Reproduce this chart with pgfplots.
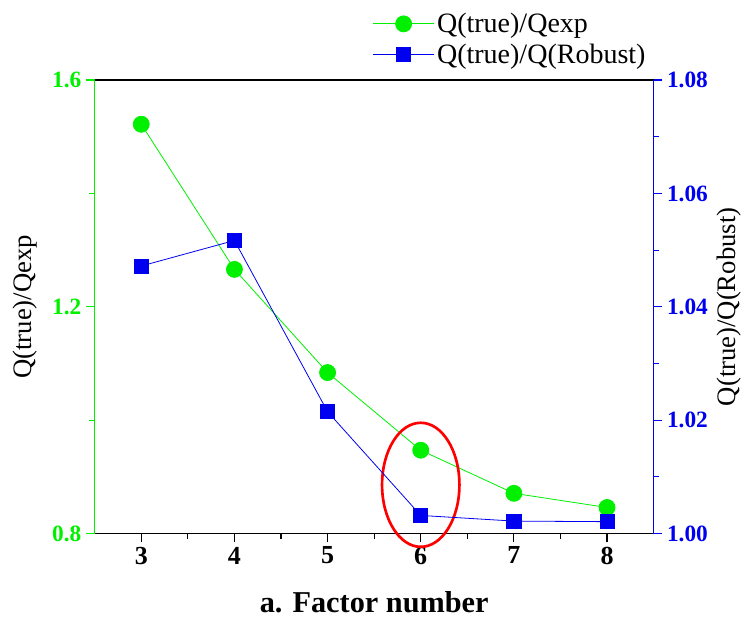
\documentclass[border=0pt]{standalone}
\usepackage{fontspec}
\setmainfont{Liberation Serif}
\usepackage{pgfplots}
\pgfplotsset{compat=1.18}
\definecolor{qgreen}{HTML}{00F000}
\definecolor{qblue}{HTML}{0000F0}

\pgfplotstableread{
n qexp
3 1.522
4 1.266
5 1.084
6 0.947
7 0.871
8 0.846
}\qexp
\pgfplotstableread{
n qrob
3 1.0472
4 1.0517
5 1.0215
6 1.0032
7 1.0022
8 1.0021
}\qrob

\begin{document}
\begin{tikzpicture}
\pgfplotsset{
  every axis/.append style={
    scale only axis, width=419pt, height=340pt,
    xmin=2.5, xmax=8.5, xtick={3,...,8}, minor x tick num=1,
    tick align=outside, major tick length=6.5pt, minor tick length=4pt,
    /pgf/number format/assume math mode=true,
    yticklabel style={font=\fontsize{17.5}{19}\selectfont\bfseries},
    xticklabel style={font=\fontsize{19.5}{21}\selectfont\bfseries},
  }
}
\begin{axis}[
  name=ax1,
  axis y line*=left, axis x line*=box, xtick pos=bottom,
  x axis line style={black, line width=0.9pt},
  y axis line style={qgreen, line width=0.9pt},
  ytick style={qgreen, line width=0.9pt},
  xtick style={black, line width=0.9pt},
  ymin=0.8, ymax=1.6, ytick={0.8,1.2,1.6}, minor y tick num=1,
  yticklabel style={qgreen, /pgf/number format/.cd, fixed, precision=1},
  ylabel={Q(true)/Qexp},
  ylabel style={font=\fontsize{20}{22}\selectfont, yshift=4pt},
  xlabel={a. Factor number},
  xlabel style={font=\fontsize{22.7}{25}\selectfont\bfseries, yshift=-13pt},
  clip=false,
]
\addplot[qgreen, line width=0.6pt, mark=*, mark size=6pt,
  mark options={solid, fill=qgreen, draw=qgreen}] table[x=n, y=qexp] {\qexp};
\draw[red, line width=2pt] (axis cs:6,0.886) ellipse [x radius=29pt, y radius=46.5pt];
\end{axis}
\begin{axis}[
  axis y line*=right, axis x line=none,
  y axis line style={qblue, line width=0.9pt},
  ytick style={qblue, line width=0.9pt},
  ymin=1.0, ymax=1.08, ytick={1.00,1.02,...,1.08}, minor y tick num=1,
  yticklabel style={qblue, /pgf/number format/.cd, fixed, fixed zerofill, precision=2},
  ylabel={Q(true)/Q(Robust)},
  ylabel style={font=\fontsize{20}{22}\selectfont, yshift=0pt},
  legend style={draw=none, fill=none, font=\fontsize{21}{23}\selectfont,
    at={(0.49,1.02)}, anchor=south west, row sep=3pt},
  legend cell align=left,
  legend image code/.code={%
    \draw[mark repeat=2, mark phase=2] plot coordinates {(0cm,0cm) (0.8cm,0cm) (1.6cm,0cm)};},
]
\addlegendimage{qgreen, line width=0.6pt, mark=*, mark size=6pt, mark options={fill=qgreen}}
\addlegendentry{Q(true)/Qexp}
\addplot[qblue, line width=0.6pt, mark=square*, mark size=5.3pt,
  mark options={solid, fill=qblue, draw=qblue}] table[x=n, y=qrob] {\qrob};
\addlegendentry{Q(true)/Q(Robust)}
\end{axis}
\pgfresetboundingbox
\useasboundingbox ([xshift=-71pt,yshift=-67pt]ax1.south west) rectangle ([xshift=70pt,yshift=60pt]ax1.north east);
\end{tikzpicture}
\end{document}
